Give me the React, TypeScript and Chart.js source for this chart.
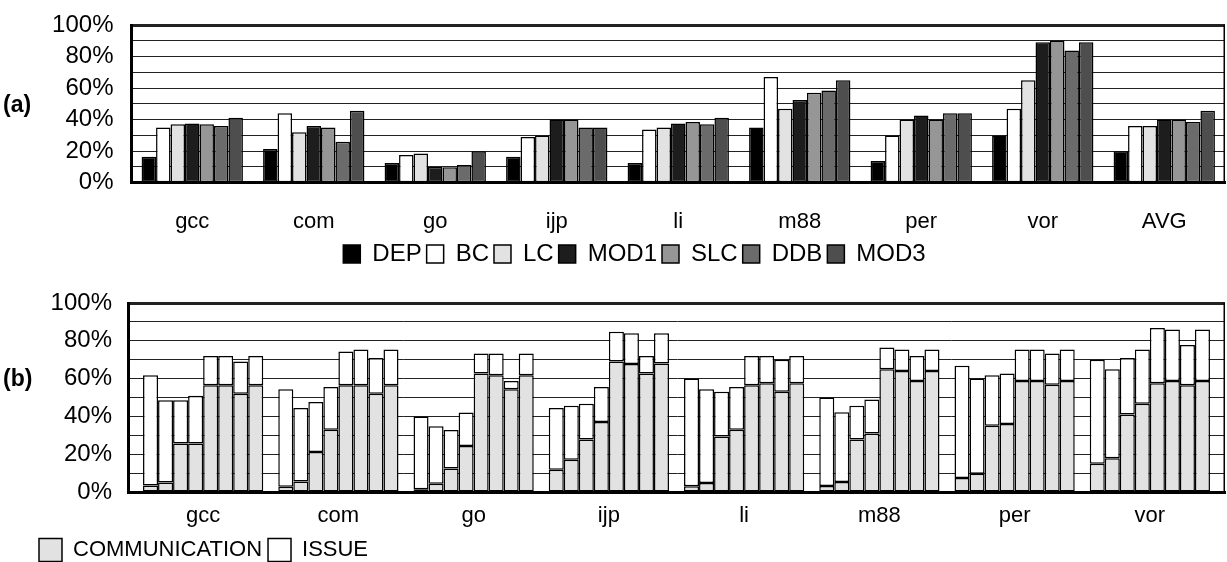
import React, { useEffect, useRef } from 'react';
import { Chart, registerables } from 'chart.js';

Chart.register(...registerables);

const FONT = '"Liberation Sans", Arial, Helvetica, sans-serif';

// ---------- Panel (a) ----------
const categoriesA = ['gcc', 'com', 'go', 'ijp', 'li', 'm88', 'per', 'vor', 'AVG'];
const DEP = [16.5, 21.3, 12.5, 16.5, 12.5, 35, 13.8, 30, 20];
const BC = [35, 44, 17.5, 29, 33.8, 67, 30, 46.9, 36];
const LC = [37.1, 32, 18.5, 30, 35, 46.9, 40, 65, 36];
const MOD1 = [37.5, 36, 10, 40, 37.5, 52.5, 42.6, 89, 40];
const SLC = [37.1, 35, 9.8, 40, 38.5, 57, 40, 90.2, 40];
const DDB = [36, 26, 11.2, 35, 37.1, 58.5, 44, 83.8, 38.5];
const MOD3 = [41.2, 45.7, 20, 35, 41.2, 65, 44, 89, 45.7];

const seriesA = [
  { label: 'DEP', data: DEP, color: '#000000' },
  { label: 'BC', data: BC, color: '#ffffff' },
  { label: 'LC', data: LC, color: '#e2e2e2' },
  { label: 'MOD1', data: MOD1, color: '#1d1d1d' },
  { label: 'SLC', data: SLC, color: '#969696' },
  { label: 'DDB', data: DDB, color: '#6b6b6b' },
  { label: 'MOD3', data: MOD3, color: '#4e4e4e' },
];

// ---------- Panel (b) ----------
const categoriesB = ['gcc', 'com', 'go', 'ijp', 'li', 'm88', 'per', 'vor'];
// each row: the 8 bars of one benchmark
const commGcc = [3.5, 5, 25.6, 25.6, 56.5, 56.5, 52, 56.5];
const issueGcc = [58.3, 43.5, 22.9, 25.3, 15.4, 15.4, 17, 15.4];
const commCom = [2.8, 5.6, 21.1, 33, 56.5, 56.5, 52, 56.5];
const issueCom = [51.6, 38.8, 26.5, 22.6, 17.8, 18.9, 18.9, 18.9];
const commGo = [1.5, 4.4, 12.5, 24.4, 62.7, 61.8, 54.4, 61.8];
const issueGo = [38.5, 30.4, 20.3, 17.6, 10.6, 11.5, 4.3, 11.5];
const commIjp = [11.8, 17, 27.8, 37, 69, 67.7, 62.7, 68];
const issueIjp = [32.6, 28.6, 18.9, 18.6, 15.8, 16.3, 9.3, 16];
const commLi = [3, 4.8, 29.3, 33, 56.5, 57.6, 53.1, 57.6];
const issueLi = [57, 49.6, 23.8, 22.6, 15.5, 14.4, 16.9, 14.4];
const commM88 = [3.2, 5.3, 27.8, 31, 65, 64, 58.7, 64];
const issueM88 = [46.8, 36.9, 17.8, 17.9, 11.5, 11.4, 13.3, 11.4];
const commPer = [7.4, 9.7, 35, 36, 58.7, 58.7, 56.7, 58.7];
const issuePer = [59.4, 50.3, 26.8, 26.7, 16.7, 16.7, 16.6, 16.7];
const commVor = [15, 17.9, 41, 46.7, 57.6, 58.7, 56.5, 58.7];
const issueVor = [55, 47.1, 29.9, 28.7, 29.2, 27.3, 21.3, 27.3];

const commB = [commGcc, commCom, commGo, commIjp, commLi, commM88, commPer, commVor];
const issueB = [issueGcc, issueCom, issueGo, issueIjp, issueLi, issueM88, issuePer, issueVor];
const BARS_PER_GROUP = 8;

const yTicks = [0, 20, 40, 60, 80, 100];

const framePlugin = {
  id: 'frameRight',
  afterDatasetsDraw(chart: any) {
    const { ctx, chartArea } = chart;
    ctx.save();
    ctx.strokeStyle = '#000';
    ctx.lineWidth = 1.5;
    ctx.beginPath();
    ctx.moveTo(chartArea.right - 0.75, chartArea.top);
    ctx.lineTo(chartArea.right - 0.75, chartArea.bottom);
    ctx.stroke();
    ctx.restore();
  },
};

const catFont = { family: FONT, size: 22 };
const yFont = { family: FONT, size: 24 };

function yAxis(width: number, gap: number) {
  return {
    min: 0,
    max: 100,
    ticks: {
      stepSize: 10,
      autoSkip: false,
      padding: 0,
      color: '#000',
      font: yFont,
      callback: (v: any) => (yTicks.includes(v) ? v + '%' : ''),
    },
    grid: {
      color: '#222',
      lineWidth: (c: any) => (c.tick && c.tick.value === 100 ? 3 : 1),
      drawTicks: true,
      tickLength: gap,
      tickColor: 'rgba(0,0,0,0)',
    },
    border: { display: true, width: 3, color: '#000' },
    afterFit: (s: any) => {
      s.width = width;
    },
  };
}

export default function App() {
  const refA = useRef<HTMLCanvasElement>(null);
  const refB = useRef<HTMLCanvasElement>(null);

  useEffect(() => {
    const chartA = new Chart(refA.current as HTMLCanvasElement, {
      type: 'bar',
      data: {
        labels: categoriesA,
        datasets: seriesA.map((s) => ({
          label: s.label,
          data: s.data,
          backgroundColor: s.color,
          borderColor: '#000',
          borderWidth: 1.5,
          borderSkipped: false,
          categoryPercentage: 0.834,
          barPercentage: 1,
        })),
      },
      options: {
        animation: false,
        responsive: false,
        events: [],
        layout: { padding: { left: 44, right: 2, top: 25, bottom: 4 } },
        plugins: {
          legend: {
            position: 'bottom',
            labels: {
              boxWidth: 17,
              boxHeight: 18,
              padding: 5,
              color: '#000',
              font: { family: FONT, size: 24 },
            },
          },
          tooltip: { enabled: false },
        },
        scales: {
          x: {
            grid: { display: false, drawTicks: false },
            border: { display: true, width: 3, color: '#000' },
            ticks: { color: '#000', font: catFont, padding: 26, maxRotation: 0, autoSkip: false },
            afterFit: (s: any) => {
              s.height = 54.3;
            },
          },
          y: yAxis(87.5, 18) as any,
        },
      },
      plugins: [framePlugin],
    });

    const datasetsB: any[] = [];
    for (let k = 0; k < BARS_PER_GROUP; k++) {
      datasetsB.push({
        label: 'COMMUNICATION',
        data: categoriesB.map((_, j) => ({ x: j, y: commB[j][k] })),
        backgroundColor: '#e2e2e2',
        borderColor: '#000',
        borderWidth: 1.5,
        borderSkipped: false,
        stack: 'bar' + k,
        categoryPercentage: BARS_PER_GROUP / (BARS_PER_GROUP + 1),
        barPercentage: 1,
      });
      datasetsB.push({
        label: 'ISSUE',
        data: categoriesB.map((_, j) => ({ x: j, y: issueB[j][k] })),
        backgroundColor: '#ffffff',
        borderColor: '#000',
        borderWidth: 1.5,
        borderSkipped: false,
        stack: 'bar' + k,
        categoryPercentage: BARS_PER_GROUP / (BARS_PER_GROUP + 1),
        barPercentage: 1,
      });
    }
    const edge = 0.5 + 0.5 / (BARS_PER_GROUP + 1);

    const chartB = new Chart(refB.current as HTMLCanvasElement, {
      type: 'bar',
      data: { datasets: datasetsB },
      options: {
        animation: false,
        responsive: false,
        events: [],
        layout: { padding: { left: 33, right: 2, top: 23, bottom: 0.5 } },
        plugins: {
          legend: {
            position: 'bottom',
            align: 'start',
            labels: {
              boxWidth: 23,
              boxHeight: 23,
              padding: 6,
              color: '#000',
              font: catFont,
              filter: (item: any) => item.datasetIndex < 2,
            },
          },
          tooltip: { enabled: false },
        },
        scales: {
          x: {
            type: 'linear',
            offset: false,
            stacked: true,
            min: -edge,
            max: categoriesB.length - 1 + edge,
            grid: { display: false, drawTicks: false },
            border: { display: true, width: 3, color: '#000' },
            ticks: {
              stepSize: 1,
              includeBounds: false,
              autoSkip: false,
              maxRotation: 0,
              color: '#000',
              font: catFont,
              padding: 10.8,
              callback: (v: any) => (categoriesB[v] !== undefined ? categoriesB[v] : ''),
            },
            afterFit: (s: any) => {
              s.height = 40.5;
            },
          },
          y: { ...(yAxis(95, 16) as any), stacked: true },
        },
      },
      plugins: [framePlugin],
    });

    return () => {
      chartA.destroy();
      chartB.destroy();
    };
  }, []);

  const labelStyle: React.CSSProperties = {
    position: 'absolute',
    left: 3,
    fontFamily: FONT,
    fontWeight: 'bold',
    fontSize: 23,
    lineHeight: '26px',
    color: '#000',
  };

  return (
    <div
      style={{
        position: 'fixed',
        left: 0,
        top: 0,
        width: 1227,
        height: 562,
        background: '#fff',
        overflow: 'hidden',
      }}
    >
      <canvas ref={refA} width={1227} height={280} style={{ position: 'absolute', left: 0, top: 0 }} />
      <canvas ref={refB} width={1227} height={292} style={{ position: 'absolute', left: 0, top: 280 }} />
      <div style={{ ...labelStyle, top: 91 }}>(a)</div>
      <div style={{ ...labelStyle, top: 365 }}>(b)</div>
    </div>
  );
}
